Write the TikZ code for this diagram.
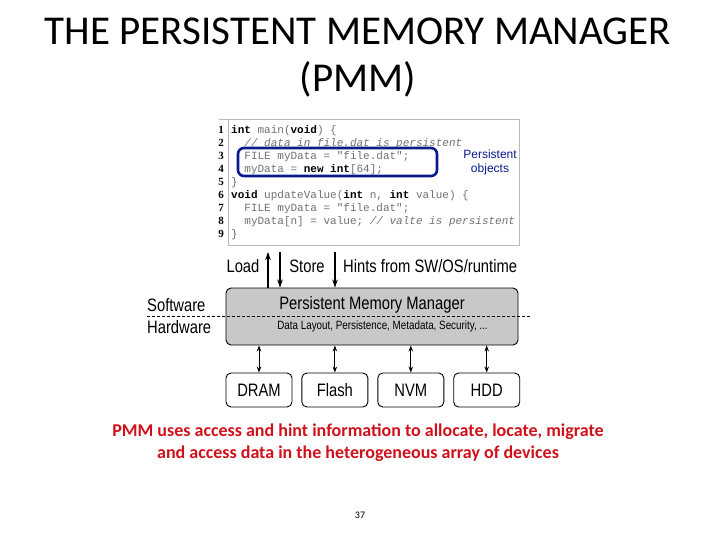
\documentclass[tikz,border=0pt]{standalone}
\usepackage{fontspec}
\setmainfont{Carlito}
\setmonofont{Liberation Mono}
\newfontfamily\diag[FakeStretch=0.82]{Liberation Sans}
\newfontfamily\plain{Liberation Sans}
\newfontfamily\nums{Liberation Serif}
\usetikzlibrary{arrows.meta,positioning,calc}
\definecolor{pmmred}{HTML}{D0111B}
\definecolor{pmmblue}{HTML}{0A1A8C}
\definecolor{pmmgray}{HTML}{C8C8C8}
\definecolor{codegray}{HTML}{707070}
\newcommand\kw[1]{\textbf{\color{black}#1}}
\tikzset{
  box/.style={draw=black,line width=0.9pt,rounded corners=5pt},
  dev/.style={box,minimum width=66pt,minimum height=34pt,inner sep=0pt,
    text height=13pt,text depth=0pt,font=\diag\fontsize{18}{20}\selectfont},
  arr/.style={-{Stealth[length=8pt,width=5.5pt]},line width=1.1pt},
  darr/.style={{Stealth[length=6pt,width=4.5pt]}-{Stealth[length=6pt,width=4.5pt]},line width=1pt},
  codeline/.style={anchor=base west,inner sep=0pt,text=codegray,
    font=\ttfamily\fontsize{11}{13}\selectfont},
  lbl/.style={inner sep=0pt,font=\diag\fontsize{18}{20}\selectfont},
}
\begin{document}
\begin{tikzpicture}[x=1pt,y=1pt]
  \useasboundingbox (0,0) rectangle (720,-540);
  % title
  \node[align=center,font=\fontsize{41}{47}\selectfont] (title) at (358,-58)
    {THE PERSISTENT MEMORY MANAGER\\(PMM)};
  % code listing
  \draw[gray!55,line width=0.6pt] (219,-119) -- (519,-119) -- (519,-245) -- (228,-245) -- (228,-119);
  \foreach \n/\txt in {
      1/{\kw{int} main(\kw{void}) \{},
      2/{\phantom{xx}\textit{// data in file.dat is persistent}},
      3/{\phantom{xx}FILE myData = "file.dat";},
      4/{\phantom{xx}myData = \kw{new int}[64];},
      5/{\}},
      6/{\kw{void} updateValue(\kw{int} n, \kw{int} value) \{},
      7/{\phantom{xx}FILE myData = "file.dat";},
      8/{\phantom{xx}myData[n] = value; \textit{// valte is persistent}},
      9/{\}}}{
    \node[anchor=base,inner sep=0pt,font=\nums\bfseries\fontsize{11}{13}\selectfont]
      (num\n) at (221,{-134-12.9*(\n-1)}) {\n};
    \node[codeline] (code\n) at (231,{-134-12.9*(\n-1)}) {\txt};
  }
  \node[draw=pmmblue,line width=2.6pt,rounded corners=6pt,minimum width=199pt,
    minimum height=28pt] (objbox) at (337.5,-162) {};
  \node[align=center,text=pmmblue,font=\plain\fontsize{12}{14}\selectfont] (objs)
    at (490,-162) {Persistent\\objects};
  % manager
  \node[box,fill=pmmgray,minimum width=292pt,minimum height=57pt] (pmm) at (372,-316.5) {};
  \node[lbl] (pmmtitle) at (372,-305) {Persistent Memory Manager};
  \node[inner sep=0pt,font=\diag\fontsize{12}{14}\selectfont] (pmmsub) at (382.5,-326)
    {Data Layout, Persistence, Metadata, Security, ...};
  % software / hardware split
  \draw[line width=1pt,dash pattern=on 3pt off 2pt] (147,-316) coordinate (cutl)
    -- (530,-316) coordinate (cutr);
  \node[lbl,anchor=west] (sw) at (147,-305) {Software};
  \node[lbl,anchor=west] (hw) at (147,-327) {Hardware};
  % access and hints
  \coordinate (loadtop) at (268,-252);
  \coordinate (storetop) at (280,-252);
  \coordinate (hinttop) at (335,-252);
  \draw[arr] (pmm.north -| loadtop) -- (loadtop);
  \draw[arr] (storetop) -- (pmm.north -| storetop);
  \draw[arr] (hinttop) -- (pmm.north -| hinttop);
  \node[lbl] (load) at (243,-266) {Load};
  \node[lbl] (store) at (307,-266) {Store};
  \node[lbl,anchor=west] (hints) at (343,-266) {Hints from SW/OS/runtime};
  % devices
  \node[dev] (dram) at (259,-390) {DRAM};
  \node[dev,right=9pt of dram] (flash) {Flash};
  \node[dev,right=9pt of flash] (nvm) {NVM};
  \node[dev,right=9pt of nvm] (hdd) {HDD};
  \foreach \d in {dram,flash,nvm,hdd}
    \draw[darr] (pmm.south -| \d.north) -- (\d.north);
  % caption
  \node[align=center,text=pmmred,font=\bfseries\fontsize{18}{21.5}\selectfont] (note)
    at (358,-442.5) {PMM uses access and hint information to allocate, locate, migrate\\
    and access data in the heterogeneous array of devices};
  \node[font=\fontsize{10}{12}\selectfont] (page) at (360,-515) {37};
\end{tikzpicture}
\end{document}
